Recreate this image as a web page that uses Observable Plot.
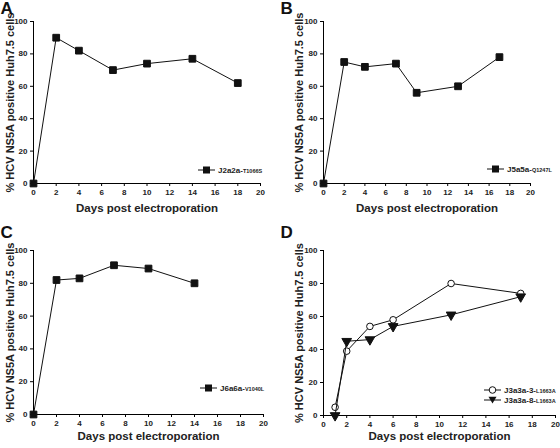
<!DOCTYPE html>
<html>
<head>
<meta charset="utf-8">
<script src="https://cdn.jsdelivr.net/npm/d3@7"></script>
<script src="https://cdn.jsdelivr.net/npm/@observablehq/plot@0.6"></script>
<style>
  html, body { margin: 0; padding: 0; background: #fff; }
  #root { position: relative; width: 560px; height: 448px; overflow: hidden; font-family: "Liberation Sans", Arial, sans-serif; }
  .panel { position: absolute; }
  .legend { position: absolute; font-weight: bold; font-size: 8px; color: #222; white-space: nowrap; }
  .legend .row { display: flex; align-items: center; height: 10px; }
  .legend sub { font-size: 5.5px; vertical-align: baseline; }
</style>
</head>
<body>
<div id="root"></div>
<script>
// ---- data ----
const xTicks = [0, 2, 4, 6, 8, 10, 12, 14, 16, 18, 20];
const yTicks = [0, 20, 40, 60, 80, 100];
const xTitle = "Days post electroporation";
const yTitle = "% HCV NS5A positive Huh7.5 cells";

const daysA = [0, 2, 4, 7, 10, 14, 18];
const valuesA = [0, 90, 82, 70, 74, 77, 62];
const nameA = "J2a2a-"; const subA = "T1066S";

const daysB = [0, 2, 4, 7, 9, 13, 17];
const valuesB = [0, 75, 72, 74, 56, 60, 78];
const nameB = "J5a5a-"; const subB = "Q1247L";

const daysC = [0, 2, 4, 7, 10, 14];
const valuesC = [0, 82, 83, 91, 89, 80];
const nameC = "J6a6a-"; const subC = "V1040L";

const daysD = [1, 2, 4, 6, 11, 17];
const valuesD3 = [5, 39, 54, 58, 80, 74];
const valuesD8 = [0, 45, 46, 54, 61, 72];
const nameD3 = "J3a3a-3-"; const nameD8 = "J3a3a-8-"; const subD = "L1663A";

// ---- drawing ----
const FONT = "'Liberation Sans', Arial, sans-serif";
const root = document.getElementById("root");

function toRows(days, values) { return days.map((d, i) => ({day: d, value: values[i]})); }

function panel(cfg) {
  const series = cfg.series;
  const marks = [
    Plot.ruleX([0], {stroke: "#000", strokeWidth: 1}),
    Plot.ruleY([0], {stroke: "#000", strokeWidth: 1}),
    Plot.axisX({ticks: xTicks, tickSize: 3, tickPadding: 3, label: null, stroke: "#000"}),
    Plot.axisY({ticks: yTicks, tickSize: 3, tickPadding: 3, label: null, stroke: "#000"}),
    Plot.text([xTitle], {frameAnchor: "bottom", lineAnchor: "middle", textAnchor: "middle", dy: cfg.xTitleDy, fontSize: 11.5, fontWeight: "bold", fill: "#222"}),
    Plot.text([yTitle], {frameAnchor: "left", textAnchor: "middle", lineAnchor: "middle", dx: -cfg.yTitleDx, rotate: -90, fontSize: 11, fontWeight: "bold", fill: "#222"}),
    Plot.text([cfg.letter], {frameAnchor: "top-left", textAnchor: "start", lineAnchor: "top", dx: cfg.letterDx, dy: cfg.letterDy, fontSize: 17, fontWeight: "bold", fill: "#111"})
  ];
  for (const s of series) {
    const rows = toRows(s.days, s.values);
    marks.push(Plot.line(rows, {x: "day", y: "value", stroke: "#111", strokeWidth: 1}));
    marks.push(Plot.dot(rows, {x: "day", y: "value", symbol: s.symbol, r: s.r, fill: s.fill, stroke: "#111", strokeWidth: 1, rotate: s.rotate || 0}));
  }
  const chart = Plot.plot({
    width: cfg.width, height: cfg.height,
    marginLeft: cfg.ml, marginRight: cfg.mr, marginTop: cfg.mt, marginBottom: cfg.mb,
    style: {fontFamily: FONT, fontSize: "8px", fontWeight: "bold", color: "#222", background: "transparent", overflow: "visible"},
    x: {domain: [0, 20]},
    y: {domain: [0, 100]},
    marks
  });
  const wrap = document.createElement("div");
  wrap.className = "panel";
  wrap.style.left = cfg.left + "px";
  wrap.style.top = cfg.top + "px";
  wrap.appendChild(chart);
  root.appendChild(wrap);
}

function legend(left, top, items) {
  const div = document.createElement("div");
  div.className = "legend";
  div.style.left = left + "px";
  div.style.top = top + "px";
  for (const it of items) {
    const row = document.createElement("div");
    row.className = "row";
    let sym;
    if (it.kind === "square") sym = `<rect x="5" y="1.5" width="7" height="7" fill="#111"/>`;
    else if (it.kind === "circle") sym = `<circle cx="8.5" cy="5" r="3.3" fill="#fff" stroke="#111" stroke-width="1"/>`;
    else sym = `<path d="M4.5,1.8 L12.5,1.8 L8.5,8.6 Z" fill="#111"/>`;
    row.innerHTML = `<svg width="17" height="10" style="margin-right:3px"><line x1="0" x2="17" y1="5" y2="5" stroke="#111" stroke-width="1"/>${sym}</svg><span>${it.name}<sub>${it.sub}</sub></span>`;
    div.appendChild(row);
  }
  root.appendChild(div);
}

panel({left: 0, top: 0, width: 280, height: 224, ml: 33, mr: 20, mt: 21, mb: 41,
  xTitleDy: 25, yTitleDx: 23, letter: "A", letterDx: -33, letterDy: -20,
  series: [{days: daysA, values: valuesA, symbol: "square", r: 3.8, fill: "#111"}]});
panel({left: 280, top: 0, width: 280, height: 224, ml: 43, mr: 30, mt: 21, mb: 41,
  xTitleDy: 25, yTitleDx: 24, letter: "B", letterDx: -43, letterDy: -20,
  series: [{days: daysB, values: valuesB, symbol: "square", r: 3.8, fill: "#111"}]});
panel({left: 0, top: 224, width: 280, height: 224, ml: 33, mr: 17, mt: 26, mb: 34,
  xTitleDy: 22, yTitleDx: 23, letter: "C", letterDx: -33, letterDy: -25,
  series: [{days: daysC, values: valuesC, symbol: "square", r: 3.8, fill: "#111"}]});
panel({left: 280, top: 224, width: 280, height: 224, ml: 43, mr: 5, mt: 26, mb: 33,
  xTitleDy: 21, yTitleDx: 24, letter: "D", letterDx: -43, letterDy: -25,
  series: [
    {days: daysD, values: valuesD3, symbol: "circle", r: 3.3, fill: "#fff"},
    {days: daysD, values: valuesD8, symbol: "triangle", r: 3.6, fill: "#111", rotate: 180}
  ]});

legend(198, 165, [{kind: "square", name: nameA, sub: subA}]);
legend(487, 164, [{kind: "square", name: nameB, sub: subB}]);
legend(200, 383, [{kind: "square", name: nameC, sub: subC}]);
legend(484, 385, [{kind: "circle", name: nameD3, sub: subD}, {kind: "triangle", name: nameD8, sub: subD}]);
</script>
</body>
</html>
